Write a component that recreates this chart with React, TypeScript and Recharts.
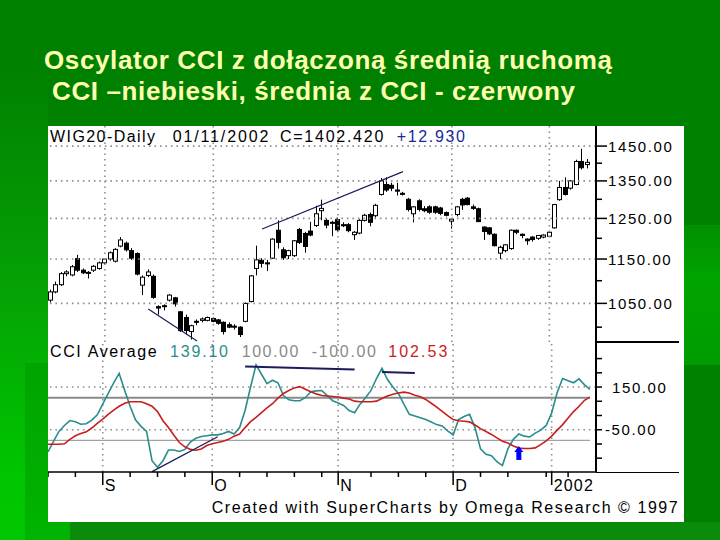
import React from 'react';
import { ComposedChart, Bar, Line, XAxis, YAxis, ReferenceLine, ReferenceDot } from 'recharts';

const FONT = "'Liberation Sans', Arial, Helvetica, sans-serif";

// ---- price data (daily candles, WIG20, late Aug 2001 .. 11 Jan 2002) ----
const opens = [1057,1075,1091,1116,1113,1151,1124,1119,1124,1128, 1141,1150,1145,1181,1188,1170,1163,1090,1112,1110,
  1043,1045,1057,1062,1032,1020,991,1012,1014,1014, 1018,1015,1010,1005,1002,1000,1012,1054,1128,1147,
  1141,1152,1220,1172,1158,1158,1222,1212,1218,1232, 1270,1245,1240,1247,1234,1234,1209,1213,1245,1260,
  1257,1313,1340,1338,1325,1316,1300,1262,1296,1275, 1280,1280,1277,1265,1243,1260,1300,1303,1280,1275,
  1228,1226,1210,1164,1170,1175,1220,1210,1198,1203, 1200,1203,1205,1226,1299,1332,1330,1340,1405,1396];
const highs = [1080,1098,1120,1124,1136,1160,1128,1122,1136,1144, 1152,1168,1176,1203,1192,1176,1166,1112,1126,1114,
  1046,1048,1070,1064,1034,1026,1005,1016,1020,1022, 1020,1017,1012,1010,1006,1002,1052,1113,1182,1152,
  1148,1200,1245,1178,1172,1196,1226,1216,1241,1283, 1299,1250,1244,1252,1240,1238,1218,1248,1262,1265,
  1288,1358,1360,1345,1345,1320,1304,1282,1300,1282, 1284,1283,1280,1268,1250,1282,1304,1306,1286,1278,
  1230,1228,1212,1182,1186,1222,1222,1212,1200,1205, 1208,1210,1215,1288,1350,1360,1352,1410,1442,1412];
const lows = [1052,1072,1088,1110,1110,1120,1115,1105,1120,1125, 1138,1146,1142,1178,1168,1148,1112,1068,1108,1060,
  1026,1035,1054,1043,990,985,975,1004,1010,1012, 1010,1005,985,998,995,980,1010,1052,1112,1130,
  1122,1150,1175,1148,1150,1155,1186,1165,1205,1228, 1245,1225,1205,1215,1228,1215,1196,1210,1242,1230,
  1252,1310,1320,1322,1310,1310,1268,1240,1268,1266, 1262,1262,1258,1255,1224,1255,1272,1284,1272,1240,
  1196,1208,1180,1150,1166,1172,1210,1200,1184,1192, 1196,1200,1203,1224,1296,1310,1326,1338,1382,1385];
const closes = [1075,1091,1116,1120,1132,1124,1118,1117,1133,1141, 1150,1165,1173,1196,1172,1152,1115,1108,1120,1063,
  1040,1044,1068,1049,993,993,1003,1010,1017,1020, 1012,1008,991,1000,1000,985,1050,1111,1148,1140,
  1139,1198,1190,1153,1170,1194,1190,1180,1208,1262, 1276,1233,1238,1221,1232,1219,1215,1245,1258,1240,
  1284,1350,1325,1330,1322,1315,1273,1280,1273,1270, 1266,1266,1263,1258,1248,1280,1285,1286,1276,1242,
  1217,1211,1182,1178,1184,1220,1215,1207,1194,1197, 1207,1208,1215,1286,1332,1313,1350,1405,1387,1402.42];

// ---- CCI and its moving average ----
const cci = [-154,-105,-58,-30,-7,-13,-24,-22,-5,20, 70,120,170,214,135,60,-5,-34,-58,-195,
  -226,-195,-145,-145,-152,-142,-108,-90,-82,-78, -74,-74,-68,-58,-70,-40,40,150,254,210,
  166,182,170,110,90,86,86,100,128,132, 134,110,86,75,64,40,30,70,100,134,
  190,238,185,150,120,70,22,14,6,-2, -14,-26,-32,-55,-74,-2,12,22,-40,-140,
  -165,-172,-200,-218,-140,-95,-70,-80,-84,-66, -52,-30,29,124,190,180,170,188,160,139.1];
const cciAvg = [-118,-118,-118,-116,-95,-78,-68,-60,-42,-20, 0,22,42,60,74,81,81,81,72,60,
  35,-8,-40,-76,-110,-130,-142,-146,-140,-124, -116,-110,-104,-95,-80,-70,-40,-12,8,30,
  52,72,98,120,134,146,152,140,128,118, 110,108,106,103,98,94,84,81,81,81,
  84,96,108,116,122,126,122,112,104,92, 74,56,36,16,-2,-8,-10,-13,-28,-45,
  -58,-72,-88,-104,-112,-126,-136,-138,-138,-135, -120,-102,-80,-52,-26,5,35,60,88,102.53];

// ---- axes ----
const priceTicks = [1000,1050,1100,1150,1200,1250,1300,1350,1400,1450];
const priceLabelTicks = [1050,1150,1250,1350,1450];
const cciTicks = [283.3,216.7,150,83.3,16.7,-50,-116.7,-183.3];
const cciLabelTicks = [150,-50];
const cciBands = [100,-100];
const monthTicks = [10,30,53,74,92];
const monthLabels = ['S','O','N','D','2002'];
const weekTicks = [0,5,15,20,25,35,40,45,50,59,64,69,79,84,91,95];
const xTicks = [...weekTicks, ...monthTicks].sort((a,b)=>a-b);

// ---- annotations (data coordinates) ----
const priceTrendLines = [
  [{x:18,y:1038},{x:27,y:972}],
  [{x:39,y:1223},{x:65,y:1376}],
];
const cciTrendLines = [
  [{x:19,y:-246},{x:31,y:-83}],
  [{x:36,y:246},{x:56,y:232}],
  [{x:61,y:220},{x:67,y:216}],
];
const arrowPoint = {x:86, y:-126};

const data = opens.map((o,i)=>({i, open:o, high:highs[i], low:lows[i], close:closes[i], cci:cci[i], avg:cciAvg[i]}));

const TEAL = '#2b8c8c';
const RED = '#c81e1e';
const NAVY = '#1c1c5c';
const DOT = '#8f8f8f';

const Candle = (props:any) => {
  const {x, y, width, height, payload} = props;
  if (x == null || !payload) return null;
  const top = Math.min(y, y+height), bot = Math.max(y, y+height);
  const lh = Math.log(payload.high), ll = Math.log(payload.low);
  const py = (v:number) => (lh === ll ? top : top + (lh - Math.log(v)) / (lh - ll) * (bot - top));
  const cx = Math.floor(x + width/2) + 0.5;
  const yo = py(payload.open), yc = py(payload.close);
  const bt = Math.min(yo, yc), bb = Math.max(yo, yc);
  const up = payload.close >= payload.open;
  return (
    <g>
      <line x1={cx} x2={cx} y1={top} y2={bot} stroke="#000" strokeWidth={1}/>
      <rect x={cx-2} y={bt} width={4} height={Math.max(bb-bt,1)} fill={up?'#fff':'#000'} stroke="#000" strokeWidth={1}/>
    </g>
  );
};

const PriceTick = (props:any) => {
  const {x, y, payload} = props;
  const major = priceLabelTicks.includes(payload.value);
  return (
    <g>
      <line x1={x} x2={x + (major ? 11 : 6)} y1={y} y2={y} stroke="#000" strokeWidth={1.5}/>
      {major && <text x={x+12} y={y} dy={5.5} fontSize={15} letterSpacing={1.6} fill="#000" fontFamily={FONT}>{payload.value.toFixed(2)}</text>}
    </g>
  );
};

const CciTick = (props:any) => {
  const {x, y, payload} = props;
  const v = Math.round(payload.value*10)/10;
  const major = cciLabelTicks.includes(v);
  return (
    <g>
      <line x1={x} x2={x + 6} y1={y} y2={y} stroke="#000" strokeWidth={1.5}/>
      {major && <text x={x + (v >= 0 ? 16 : 9)} y={y} dy={5.5} fontSize={15} letterSpacing={1.6} fill="#000" fontFamily={FONT}>{v.toFixed(2)}</text>}
    </g>
  );
};

const XTick = (props:any) => {
  const {x, y, payload} = props;
  const idx = monthTicks.indexOf(payload.value);
  const isMonth = idx >= 0;
  return (
    <g>
      <line x1={x} x2={x} y1={y} y2={y + (isMonth ? 13 : 5)} stroke="#000" strokeWidth={1.5}/>
      {isMonth && <text x={x+2} y={y+19} fontSize={16} letterSpacing={1.2} fill="#000" fontFamily={FONT}>{monthLabels[idx]}</text>}
    </g>
  );
};

const Arrow = (props:any) => {
  const {cx, cy} = props;
  if (cx == null) return null;
  return (
    <g>
      <polygon points={`${cx},${cy} ${cx-4.5},${cy+6} ${cx+4.5},${cy+6}`} fill="#0000ff"/>
      <rect x={cx-2.5} y={cy+5} width={5} height={9} fill="#0000ff"/>
    </g>
  );
};

export default function App() {
  const txt = (t:string, x:number, y:number, w:number, color:string, size=16) => (
    <text x={x} y={y} fontSize={size} fill={color} fontFamily={FONT} textLength={w} lengthAdjust="spacing">{t}</text>
  );
  return (
    <div style={{position:'absolute', left:0, top:0, width:720, height:540, overflow:'hidden', background:'#008000'}}>
      <div style={{position:'absolute', left:0, top:60, width:48, height:480, background:'linear-gradient(to bottom, #008000 0%, #05a005 45%, #00c400 85%, #00c800 100%)'}}/>
      <div style={{position:'absolute', left:25, top:363, width:45, height:177, background:'linear-gradient(to bottom, #00a400, #00b400)'}}/>
      <div style={{position:'absolute', left:70, top:522, width:650, height:18, background:'#0a8c0a'}}/>
      <div style={{position:'absolute', left:684, top:225, width:36, height:140, background:'linear-gradient(to bottom, #009000, #00a400 40%, #009c00)'}}/>
      <svg width={720} height={120} style={{position:'absolute', left:0, top:0}}>
        <text x={44} y={69} fontSize={26} fontWeight="bold" fill="#ffffb0" fontFamily={FONT} textLength={568} lengthAdjust="spacing">Oscylator CCI z dołączoną średnią ruchomą</text>
        <text x={52} y={100} fontSize={26} fontWeight="bold" fill="#ffffb0" fontFamily={FONT} textLength={523} lengthAdjust="spacing">CCI –niebieski, średnia z CCI - czerwony</text>
      </svg>
      <div style={{position:'absolute', left:48, top:126, width:636, height:396, background:'#fff', overflow:'hidden'}}>
        <div style={{position:'absolute', left:0, top:0, width:636, height:216}}>
          <ComposedChart width={636} height={216} data={data} margin={{top:0,right:0,bottom:0,left:0}} barCategoryGap={0}>
            <XAxis dataKey="i" type="category" hide padding={{left:0,right:6}}/>
            <YAxis orientation="right" width={88} type="number" scale="log" domain={[970,1511]} allowDataOverflow
              ticks={priceTicks} interval={0} tick={(p:any)=><PriceTick {...p}/>} tickLine={false} tickSize={0} tickMargin={0}
              axisLine={{stroke:'#000', strokeWidth:2}}/>
            {priceLabelTicks.map(v => <ReferenceLine key={'h'+v} y={v} stroke={DOT} strokeWidth={1.6} strokeDasharray="1.6 3.9"/>)}
            {monthTicks.map(m => <ReferenceLine key={'v'+m} x={m} stroke={DOT} strokeWidth={1.6} strokeDasharray="1.6 3.9"/>)}
            <Bar dataKey={(d:any)=>[d.low, d.high]} shape={(p:any)=><Candle {...p}/>} isAnimationActive={false}/>
            {priceTrendLines.map((s,k) => <ReferenceLine key={'pt'+k} segment={s} stroke={NAVY} strokeWidth={1.2} ifOverflow="visible"/>)}
          </ComposedChart>
        </div>
        <div style={{position:'absolute', left:0, top:216, width:636, height:180}}>
          <ComposedChart width={636} height={180} data={data} margin={{top:0,right:0,bottom:0,left:0}}>
            <XAxis dataKey="i" type="category" padding={{left:0,right:6}} height={50} ticks={xTicks} interval={0}
              tick={(p:any)=><XTick {...p}/>} tickLine={false} tickSize={0} tickMargin={0} axisLine={{stroke:'#000', strokeWidth:1.5}}/>
            <YAxis orientation="right" width={88} type="number" domain={[-248,361]} allowDataOverflow
              ticks={cciTicks} interval={0} tick={(p:any)=><CciTick {...p}/>} tickLine={false} tickSize={0} tickMargin={0}
              axisLine={{stroke:'#000', strokeWidth:2}}/>
            {cciLabelTicks.map(v => <ReferenceLine key={'ch'+v} y={v} stroke={DOT} strokeWidth={1.6} strokeDasharray="1.6 3.9"/>)}
            {monthTicks.map(m => <ReferenceLine key={'cv'+m} x={m} stroke={DOT} strokeWidth={1.6} strokeDasharray="1.6 3.9"/>)}
            <ReferenceLine segment={[{x:0,y:cciBands[0]},{x:99,y:cciBands[0]}]} stroke="#8a8a8a" strokeWidth={2}/>
            <ReferenceLine segment={[{x:0,y:cciBands[1]},{x:99,y:cciBands[1]}]} stroke="#a2a2a2" strokeWidth={1.4}/>
            <Line dataKey="cci" type="linear" stroke={TEAL} strokeWidth={1.6} dot={false} isAnimationActive={false}/>
            <Line dataKey="avg" type="linear" stroke={RED} strokeWidth={1.6} dot={false} isAnimationActive={false}/>
            {cciTrendLines.map((s,k) => <ReferenceLine key={'ct'+k} segment={s} stroke={NAVY} strokeWidth={k===0?1.3:2} ifOverflow="visible"/>)}
            <ReferenceDot x={arrowPoint.x} y={arrowPoint.y} r={0} shape={(p:any)=><Arrow {...p}/>} ifOverflow="visible"/>
          </ComposedChart>
        </div>
        <div style={{position:'absolute', left:548, top:215, width:83, height:1.5, background:'#000'}}/>
        <div style={{position:'absolute', left:548, top:345.5, width:83, height:1.5, background:'#000'}}/>
        <svg width={636} height={396} style={{position:'absolute', left:0, top:0, pointerEvents:'none'}}>
          {txt('WIG20-Daily', 2, 15.7, 105, '#000')}
          {txt('01/11/2002', 124.7, 15.7, 95.6, '#000')}
          {txt('C=1402.420', 232, 15.7, 103.3, '#000')}
          {txt('+12.930', 348.7, 15.7, 68.3, '#1a2a9a')}
          {txt('CCI Average', 2, 231, 106.7, '#000')}
          {txt('139.10', 122, 231, 58, TEAL)}
          {txt('100.00', 193.7, 231, 56.6, '#8a8a8a')}
          {txt('-100.00', 263.7, 231, 64.3, '#8a8a8a')}
          {txt('102.53', 340.3, 231, 59, RED)}
          {txt('Created with SuperCharts by Omega Research \u00A9 1997', 163.7, 387, 466, '#000')}
        </svg>
      </div>
    </div>
  );
}
